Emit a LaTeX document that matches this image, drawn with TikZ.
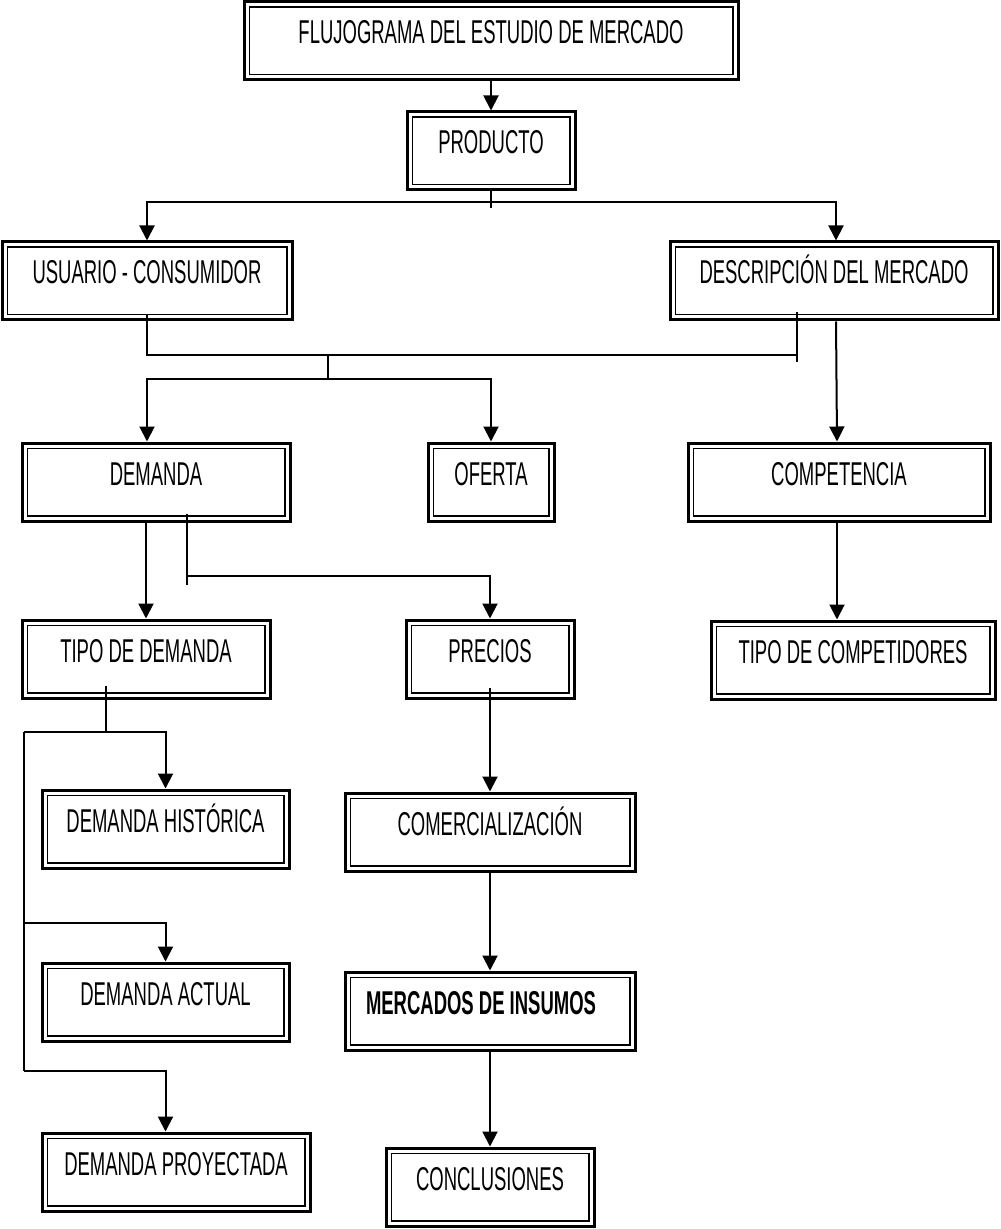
\documentclass[tikz,border=0pt]{standalone}
\usepackage{fontspec}
\newfontfamily\boxfont{Liberation Sans}[FakeStretch=0.56]
\usetikzlibrary{arrows.meta,calc}

\tikzset{
  frame/.style={
    draw, line width=1.5pt, fill=white,
    minimum width=#1, inner xsep=0pt, inner ysep=0pt,
    text height=21pt, text depth=18pt,
    font=\boxfont\fontsize{16.5pt}{18pt}\selectfont,
    path picture={
      \draw[line width=0.7pt]
        ([shift={(2.6pt,-2.6pt)}]path picture bounding box.north west) rectangle
        ([shift={(-2.6pt,2.6pt)}]path picture bounding box.south east);
    }
  },
  link/.style={line width=1pt},
  arr/.style={link, -{Triangle[length=7.5pt,width=7.5pt]}}
}

\begin{document}
\begin{tikzpicture}[x=0.5pt, y=-0.5pt]
\useasboundingbox (0,0) rectangle (1000,1229);

% boxes
\node[frame=247pt]   (flujo)        at (491,41)     {FLUJOGRAMA DEL ESTUDIO DE MERCADO};
\node[frame=84pt]    (producto)     at (491,151)    {PRODUCTO};
\node[frame=145pt]   (usuario)      at (147,281)    {USUARIO - CONSUMIDOR};
\node[frame=164pt]   (descrip)      at (834,281)    {DESCRIPCIÓN DEL MERCADO};
\node[frame=134pt]   (demanda)      at (156,482)    {DEMANDA};
\node[frame=63pt]    (oferta)       at (491,482)    {OFERTA};
\node[frame=151pt]   (competencia)  at (839,482)    {COMPETENCIA};
\node[frame=124pt]   (tipodem)      at (146,659)    {TIPO DE DEMANDA};
\node[frame=84pt]    (precios)      at (490,659)    {PRECIOS};
\node[frame=142pt]   (tipocomp)     at (853,660)    {TIPO DE COMPETIDORES};
\node[frame=123.5pt] (historica)    at (165.5,829)  {DEMANDA HISTÓRICA};
\node[frame=145pt]   (comerc)       at (490,832)    {COMERCIALIZACIÓN};
\node[frame=123.5pt] (actual)       at (165.5,1002) {DEMANDA ACTUAL};
\node[frame=145pt]   (mercados)     at (490,1011)   {\bfseries\hspace*{-9pt}MERCADOS DE INSUMOS};
\node[frame=134pt]   (proyectada)   at (176,1172)   {DEMANDA PROYECTADA};
\node[frame=104pt]   (conclusiones) at (490,1187)   {CONCLUSIONES};

% junction points
\coordinate (p1)  at (491,202);
\coordinate (p1e) at (491,208);
\coordinate (u1)  at (147,355);
\coordinate (u2)  at (797,355);
\coordinate (u2e) at (797,362);
\coordinate (m1)  at (328,355);
\coordinate (m2)  at (328,379);
\coordinate (d1)  at (187,576);
\coordinate (d1e) at (187,585);
\coordinate (t1)  at (106,732);
\coordinate (b1)  at (24,732);
\coordinate (b2)  at (24,923);
\coordinate (b3)  at (24,1071);

% connectors
\draw[arr]  (flujo.south -| producto.north) -- (producto.north);
\draw[link] (producto.south) -- (p1e);
\draw[arr]  (p1) -| (usuario.north);
\draw[arr]  (p1) -| ($(descrip.north)+(2,0)$);

\draw[link] ($(usuario.south)+(0,-7)$) -- (u1) -- (u2);
\draw[link] ($(descrip.south -| u2)+(0,-9)$) -- (u2e);
\draw[link] (m1) -- (m2);
\draw[arr]  (m2) -| (demanda.north -| usuario.south);
\draw[arr]  (m2) -| (oferta.north);
\draw[arr]  ($(descrip.south)+(2,0)$) -- ($(competencia.north)+(-2,0)$);

\draw[arr]  (demanda.south -| tipodem.north) -- (tipodem.north);
\draw[link] ($(demanda.south -| d1)+(0,-9)$) -- (d1e);
\draw[arr]  (d1) -| (precios.north);
\draw[arr]  ($(competencia.south)+(-2,0)$) -- ($(competencia.south |- tipocomp.north)+(-2,0)$);

\draw[link] ($(tipodem.south -| t1)+(0,-14)$) -- (t1);
\draw[link] (b1) -- (b3);
\draw[arr]  (b1) -| (historica.north);
\draw[arr]  (b2) -| (actual.north);
\draw[arr]  (b3) -| (proyectada.north -| historica.north);

\draw[arr]  ($(precios.south)+(0,-12)$) -- (comerc.north);
\draw[arr]  (comerc.south) -- (mercados.north);
\draw[arr]  (mercados.south) -- (conclusiones.north);
\end{tikzpicture}
\end{document}
